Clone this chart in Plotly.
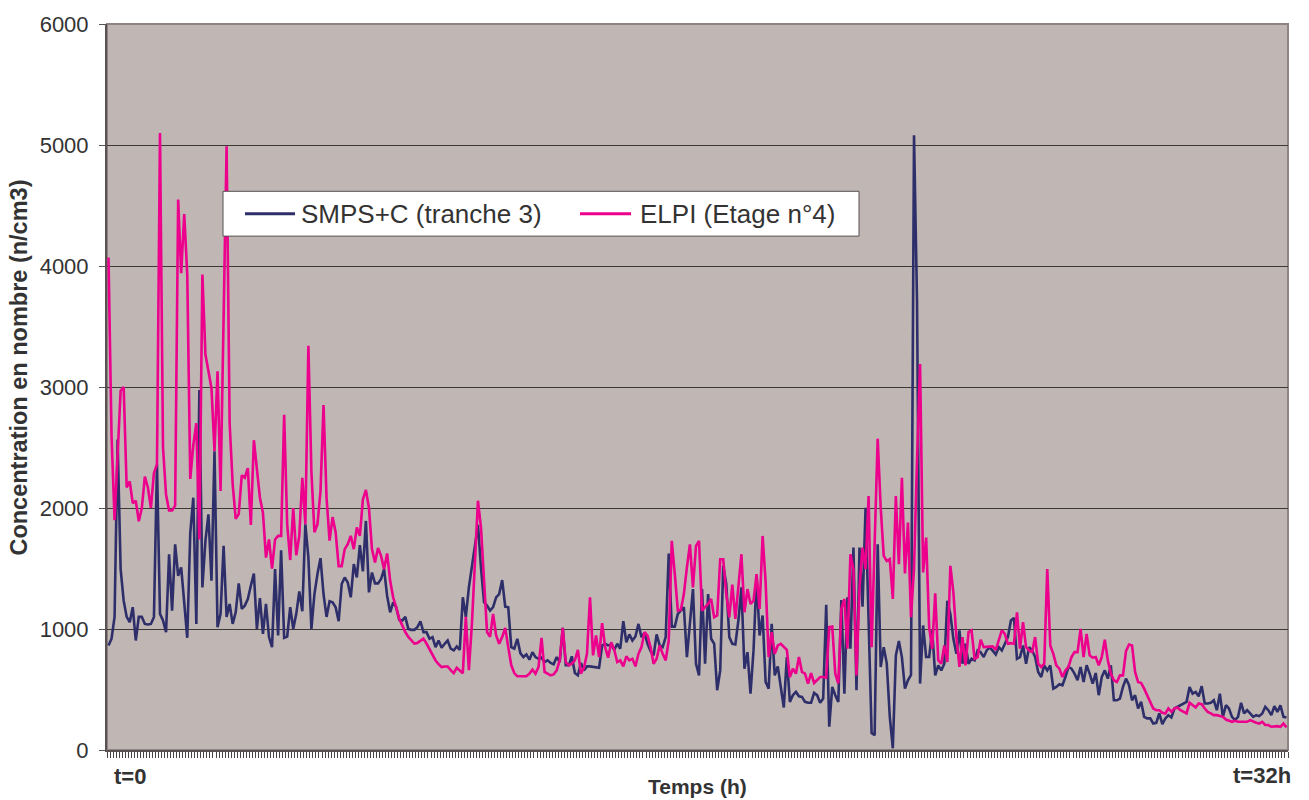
import plotly.graph_objects as go

# SMPS+C (tranche 3) number concentration, n/cm3, one value per sample
smps = [
    864, 920, 1100, 2565, 1495, 1234, 1100, 1056, 1180, 905,
    1100, 1100, 1042, 1037, 1042, 1100, 2359, 1125, 1070, 974,
    1618, 1152, 1700, 1440, 1509, 1180, 927, 1797, 2085, 1042,
    2976, 1344, 1728, 1947, 1399, 2469, 1015, 1125, 1687, 1100,
    1207, 1042, 1138, 1377, 1166, 1193, 1248, 1358, 1459, 1001,
    1256, 960, 1207, 933, 850, 1495, 946, 1651, 927, 938,
    1180, 1001, 1125, 1311, 1147, 1865, 1591, 1001, 1289, 1454,
    1585, 1289, 1100, 1229, 1221, 1180, 1064, 1372, 1426, 1385,
    1262, 1536, 1426, 1693, 1476, 1893, 1303, 1467, 1377, 1377,
    1413, 1495, 1275, 1138, 1221, 1180, 1075, 1070, 1100, 1001,
    993, 993, 1015, 1064, 974, 974, 919, 933, 850, 905,
    845, 878, 905, 837, 823, 856, 828, 1262, 1100, 1344,
    1509, 1673, 1860, 1509, 1221, 1193, 1152, 1180, 1262,
    1289, 1404, 1185, 1180, 850, 837, 919, 801, 768, 790,
    746, 809, 768, 754, 763, 727, 741, 719, 708, 768,
    727, 1009, 700, 700, 774, 636, 617, 719, 658, 691,
    691, 686, 680, 680, 864, 878, 864, 872, 828, 878,
    837, 1064, 891, 955, 905, 938, 1042, 933, 966, 878,
    817, 782, 955, 864, 850, 933, 1624, 1020, 1020, 1125,
    1152, 1180, 768, 1070, 1330, 713, 617, 1330, 713, 1289,
    919, 878, 494, 658, 1522, 1372, 933, 878, 872, 1070,
    1344, 672, 809, 466, 823, 1426, 946, 1111, 562, 507,
    1042, 617, 691, 521, 351, 768, 398, 453, 480, 444,
    439, 398, 390, 390, 472, 453, 390, 425, 1201, 192,
    521, 453, 398, 1240, 466, 1262, 837, 1673, 494, 1673,
    1185, 2002,
    1000, 140, 123, 1700, 686, 850, 716, 274, 14, 782,
    900, 768, 508, 576, 620, 5080, 3700,
    549, 1029, 768, 768, 988, 617, 700, 658, 713, 1234,
    1125, 919, 795, 988, 713, 878, 713, 754, 741, 823,
    809, 768, 823, 850, 823, 790, 850, 823, 878, 933,
    1070, 1092, 754, 768, 864, 713, 850, 823, 768, 645,
    603, 700, 658, 700, 507, 521, 543, 535, 603, 686,
    672, 631, 576, 686, 562, 700, 631, 549, 636, 453,
    603, 658, 590, 700, 411, 411, 425, 521, 590, 535,
    411, 453, 343, 398, 274, 261, 261, 219, 225, 302,
    214, 261, 288, 269, 343, 357, 370, 379, 398, 521,
    466, 480, 444, 527, 384, 384, 390, 411, 329, 466,
    274, 370, 343, 274, 247, 274, 390, 302, 329, 302,
    274, 288, 280, 302, 357, 329, 288, 362, 315, 370,
    274, 269,
]

# ELPI (Etage n°4) number concentration, n/cm3, same sampling
elpi = [
    4070, 2600, 1900, 2450, 2970, 3000, 2170, 2220, 2040, 2060,
    1890, 2000, 2260, 2170, 2000, 2290, 2360, 5100, 2500, 2110,
    1980, 1980, 2020, 4550, 3940, 4430, 3930, 2240, 2520, 2700,
    1740, 3930, 3270, 3130, 2990, 2470, 3130, 2140, 3500, 4990,
    2700, 2200, 1910, 1950, 2270, 2250, 2330, 1860, 2560, 2330,
    2085, 1960, 1590, 1740, 1500, 1740, 1770, 1770, 2770, 1865,
    1570, 2000, 1610, 1770, 2250, 1865, 3340, 2300, 1800, 1865,
    2140, 2850, 2085, 1730, 1925, 1800, 1520, 1520, 1660, 1700,
    1770, 1660, 1840, 1770, 2070, 2150, 2000, 1660, 1550, 1670,
    1605, 1495, 1625, 1400, 1260, 1180, 1085, 1030, 975, 935,
    905, 880, 885, 905, 920, 880, 830, 780, 740, 710,
    685, 690, 690, 660, 635, 680, 660, 635, 1100, 660,
    1040, 1510, 2060, 1840, 1400, 975, 935, 1125, 946,
    878, 933, 1009, 850, 700, 636, 609, 609, 609, 609,
    631, 664, 631, 686, 927, 645, 631, 617, 625, 658,
    741, 1009, 727, 700, 713, 741, 828, 631, 680, 795,
    1262, 782, 946, 768, 1048, 850, 763, 891, 828, 727,
    741, 691, 774, 741, 754, 691, 795, 850, 974, 946,
    850, 713, 754, 864, 795, 741, 905, 1728, 1454, 1152,
    1158, 1289, 1509, 1700, 1344, 1687, 1728, 1152, 1180, 1207,
    1248, 1097, 1111, 1577, 1577, 1289, 1097, 1366, 1083, 1372,
    1618, 1138, 1330, 1207, 1234, 1454, 1166, 1769, 1385, 768,
    974, 795, 864, 878, 850, 828, 603, 672, 631, 768,
    645, 631, 549, 636, 554, 576, 603, 603, 598, 1015,
    1020, 631, 549, 1166, 1248, 837, 1618, 1495, 617, 1344,
    1673, 1495, 2098, 850, 1755, 2573,
    2002, 1605, 1563, 1577, 1248, 2098, 1536, 2249, 1459, 1879,
    1097, 1500, 2400, 3190,
    1467, 1755, 1015, 837, 1295, 741, 713, 864, 727,
    1522, 1303, 933, 686, 933, 700, 974, 988, 754, 768,
    911, 850, 850, 850, 856, 828, 905, 988, 960, 878,
    883, 878, 1138, 837, 1056, 850, 823, 809, 933, 713,
    686, 713, 1495, 864, 795, 700, 672, 603, 658, 686,
    768, 809, 809, 1001, 768, 960, 782, 763, 768, 700,
    768, 911, 741, 631, 576, 562, 617, 617, 817, 872,
    864, 645, 562, 554, 507, 453, 390, 343, 329, 329,
    307, 302, 343, 315, 343, 351, 329, 315, 302, 390,
    370, 351, 384, 379, 343, 315, 302, 288, 288, 280,
    274, 252, 241, 233, 241, 233, 233, 233, 233, 247,
    233, 225, 219, 233, 206, 206, 192, 197, 197, 192,
    219, 187,
]

y_ticks = [0, 1000, 2000, 3000, 4000, 5000, 6000]
series_names = ["SMPS+C (tranche 3)", "ELPI (Etage n°4)"]
series_colors = ["#2e2f6a", "#ec008c"]
x_start_label = "t=0"
x_end_label = "t=32h"

samples = list(range(len(smps)))
n = len(smps)

FONT = "Liberation Sans, Arial, sans-serif"
TEXT = "#333333"

fig = go.Figure()
fig.add_trace(go.Scatter(x=samples, y=smps, mode="lines", name=series_names[0],
                         line=dict(color=series_colors[0], width=2.6)))
fig.add_trace(go.Scatter(x=samples, y=elpi, mode="lines", name=series_names[1],
                         line=dict(color=series_colors[1], width=2.6)))

fig.update_layout(
    width=1309, height=800,
    margin=dict(l=107, r=21, t=21, b=50),
    paper_bgcolor="white",
    plot_bgcolor="#c0b7b5",
    showlegend=False,
    font=dict(family=FONT, color=TEXT),
)

fig.update_xaxes(
    range=[-0.5, n - 0.5],
    tickmode="linear", tick0=-0.5, dtick=1,
    ticks="outside", ticklen=6, tickwidth=1, tickcolor="#4a4444",
    showticklabels=False, showgrid=False, zeroline=False,
    showline=True, linecolor="#5a5252", linewidth=2,
)
fig.update_yaxes(
    range=[0, 6000],
    tickmode="array", tickvals=y_ticks, ticktext=[str(v) for v in y_ticks],
    ticks="outside", ticklen=6, tickwidth=1, tickcolor="#5a5252",
    tickfont=dict(size=22, color=TEXT, family=FONT),
    ticklabelstandoff=6,
    showgrid=True, gridcolor="#3c3838", gridwidth=1,
    zeroline=False, showline=True, linecolor="#5a5252", linewidth=2,
)

# plot-area frame (top and right edges)
fig.add_shape(type="rect", xref="paper", yref="paper", x0=0, x1=1, y0=0, y1=1,
              line=dict(color="#8e8482", width=2), layer="below")

# legend box drawn in paper space
def px_x(p):
    return (p - 107) / 1181

def px_y(p):
    return (750 - p) / 729

fig.add_shape(type="rect", xref="paper", yref="paper",
              x0=px_x(223), x1=px_x(859), y0=px_y(234), y1=px_y(189),
              line=dict(color="#555050", width=1), fillcolor="white", layer="above")
legend_items = [(245, 295, 299), (580, 631, 638)]
for (lx0, lx1, tx), name, col in zip(legend_items, series_names, series_colors):
    fig.add_shape(type="line", xref="paper", yref="paper",
                  x0=px_x(lx0), x1=px_x(lx1), y0=px_y(211.5), y1=px_y(211.5),
                  line=dict(color=col, width=3), layer="above")
    fig.add_annotation(xref="paper", yref="paper", x=px_x(tx), y=px_y(211.5),
                       text=name, showarrow=False, xanchor="left", yanchor="middle",
                       font=dict(size=26, color=TEXT, family=FONT))

# axis titles and time markers
fig.add_annotation(xref="paper", yref="paper", x=px_x(19), y=px_y(366),
                   text="<b>Concentration en nombre (n/cm3)</b>", textangle=-90,
                   showarrow=False, xanchor="center", yanchor="middle",
                   font=dict(size=23.5, color=TEXT, family=FONT))
fig.add_annotation(xref="paper", yref="paper", x=px_x(697), y=px_y(787),
                   text="<b>Temps (h)</b>", showarrow=False,
                   xanchor="center", yanchor="middle",
                   font=dict(size=21, color=TEXT, family=FONT))
fig.add_annotation(xref="paper", yref="paper", x=px_x(112), y=px_y(777),
                   text="<b>" + x_start_label + "</b>", showarrow=False,
                   xanchor="left", yanchor="middle",
                   font=dict(size=22, color=TEXT, family=FONT))
fig.add_annotation(xref="paper", yref="paper", x=px_x(1293), y=px_y(776),
                   text="<b>" + x_end_label + "</b>", showarrow=False,
                   xanchor="right", yanchor="middle",
                   font=dict(size=22, color=TEXT, family=FONT))

fig.write_html("out.html")
